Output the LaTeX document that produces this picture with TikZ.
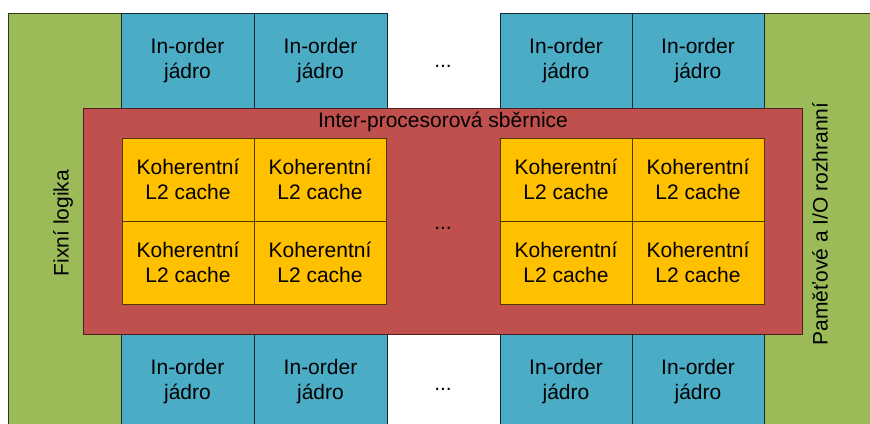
\documentclass[tikz,border=0pt]{standalone}
\usepackage{fontspec}
\setmainfont{Liberation Sans}
\definecolor{gr}{HTML}{9BBB59}
\definecolor{bl}{HTML}{4BACC6}
\definecolor{rd}{HTML}{C0504D}
\definecolor{ye}{HTML}{FFC000}
\begin{document}
\begin{tikzpicture}[x=1pt,y=-1pt,
  every node/.style={font=\fontsize{21}{25}\selectfont, inner sep=0pt, outer sep=0pt},
  box/.style={rectangle, line width=0.8pt, align=center},
  side/.style={box, fill=gr, draw=gr!30!black},
  core/.style={box, fill=bl, draw=bl!25!black, minimum height=95pt},
  bus/.style={box, fill=rd, draw=rd!40!black},
  cache/.style={box, fill=ye, draw=ye!30!black, minimum width=132pt, minimum height=83pt},
  dots/.style={anchor=base}]
\useasboundingbox (0,0) rectangle (870,423);
\clip (0,0) rectangle (870,423);
\fill[white] (0,0) rectangle (870,423);
% side blocks
\node[side, minimum width=113pt, minimum height=420pt, anchor=north west] (fixed) at (8,13) {};
\node[side, minimum width=120pt, minimum height=420pt, anchor=north west] (memio) at (764,13) {};
% top cores
\node[core, minimum width=133pt] (t1) at (187.5,60.5) {In-order\\jádro};
\node[core, minimum width=133pt] (t2) at (320.5,60.5) {In-order\\jádro};
\node[core, minimum width=132pt] (t3) at (566,60.5) {In-order\\jádro};
\node[core, minimum width=132pt] (t4) at (698,60.5) {In-order\\jádro};
% bottom cores
\node[core, minimum width=133pt, minimum height=100pt, anchor=north] (b1) at (187.5,334) {};
\node[core, minimum width=133pt, minimum height=100pt, anchor=north] (b2) at (320.5,334) {};
\node[core, minimum width=132pt, minimum height=100pt, anchor=north] (b3) at (566,334) {};
\node[core, minimum width=132pt, minimum height=100pt, anchor=north] (b4) at (698,334) {};
\node[align=center] (b1t) at (187.5,382) {In-order\\jádro};
\node[align=center] (b2t) at (320.5,382) {In-order\\jádro};
\node[align=center] (b3t) at (566,382) {In-order\\jádro};
\node[align=center] (b4t) at (698,382) {In-order\\jádro};
% bus
\node[bus, minimum width=719pt, minimum height=226pt] (busbox) at (442.5,221) {};
\node (bustext) at (443,122) {Inter-procesorová sběrnice};
% caches
\node[cache] (c11) at (188,179.5) {Koherentní\\L2 cache};
\node[cache] (c12) at (320,179.5) {Koherentní\\L2 cache};
\node[cache] (c21) at (188,262.5) {Koherentní\\L2 cache};
\node[cache] (c22) at (320,262.5) {Koherentní\\L2 cache};
\node[cache] (c13) at (566,179.5) {Koherentní\\L2 cache};
\node[cache] (c14) at (698,179.5) {Koherentní\\L2 cache};
\node[cache] (c23) at (566,262.5) {Koherentní\\L2 cache};
\node[cache] (c24) at (698,262.5) {Koherentní\\L2 cache};
% dots
\node[dots] (d1) at (443,67) {...};
\node[dots] (d2) at (443,229) {...};
\node[dots] (d3) at (443,390) {...};
% side labels
\node[rotate=90] (fixedtext) at (63,223) {Fixní logika};
\node[rotate=90] (memiotext) at (820,224) {Paměťové a I/O rozhranní};
\end{tikzpicture}
\end{document}
